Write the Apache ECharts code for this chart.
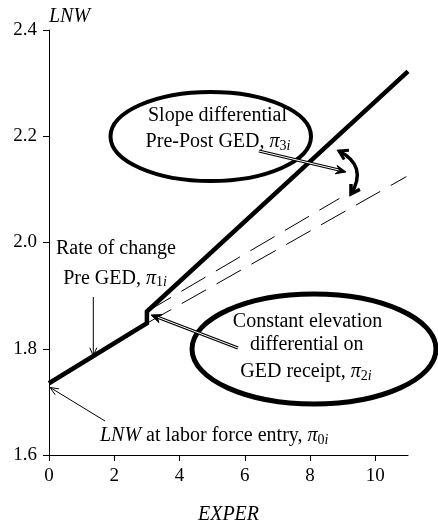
<!DOCTYPE html>
<html>
<head>
<meta charset="utf-8">
<script src="https://cdn.jsdelivr.net/npm/echarts@6/dist/echarts.min.js"></script>
<style>
  html, body { margin: 0; padding: 0; background: #fff; }
  #chart { width: 438px; height: 524px; }
</style>
</head>
<body>
<div id="chart"></div>
<script>
// Log wage (LNW) against labour-market experience (EXPER)
// Observed path for a GED recipient: pre-GED growth, jump at receipt, steeper growth after
const gedPathX = [0, 3, 3, 11];
const gedPathY = [1.735, 1.848, 1.870, 2.322];
// Counterfactual: pre-GED growth continued with no GED
const noGedX = [3, 10.95];
const noGedY = [1.848, 2.124];
// Counterfactual: elevation at receipt but no change in slope
const elevOnlyX = [3, 8.9];
const elevOnlyY = [1.870, 2.083];
// Axis ticks
const xTicks = [0, 2, 4, 6, 8, 10];
const yTicks = [1.6, 1.8, 2.0, 2.2, 2.4];

const SERIF = 'Liberation Serif';
const zip = (xs, ys) => xs.map((x, i) => [x, ys[i]]);

const chart = echarts.init(document.getElementById('chart'), null, { renderer: 'canvas' });

// Rich text styles for italic words and pi subscripts
const rich = {
  it: { fontFamily: SERIF, fontSize: 20, fontStyle: 'italic', color: '#000' },
  p:  { fontFamily: SERIF, fontSize: 20, fontStyle: 'italic', color: '#000' },
  s:  { fontFamily: SERIF, fontSize: 14, color: '#000', verticalAlign: 'bottom', padding: [8, 0, 0, 0] },
  si: { fontFamily: SERIF, fontSize: 14, fontStyle: 'italic', color: '#000', verticalAlign: 'bottom', padding: [8, 0, 0, 0] }
};

function label(text, x, y, align) {
  return {
    type: 'text',
    z: 50,
    style: {
      text: text, x: x, y: y,
      align: align || 'center', verticalAlign: 'middle',
      fontFamily: SERIF, fontSize: 20, fill: '#000',
      rich: rich
    }
  };
}

// Open V arrowhead at (tx, ty) pointing along (dx, dy)
function vHead(tx, ty, dx, dy, len, ang, w) {
  const L = Math.hypot(dx, dy), ux = dx / L, uy = dy / L;
  const c = Math.cos(ang), s = Math.sin(ang);
  const b1 = [tx - len * (ux * c - uy * s), ty - len * (uy * c + ux * s)];
  const b2 = [tx - len * (ux * c + uy * s), ty - len * (uy * c - ux * s)];
  return { type: 'polyline', z: 60, shape: { points: [b1, [tx, ty], b2] },
           style: { stroke: '#000', lineWidth: w, fill: null } };
}

// Filled notched arrowhead
function fillHead(tx, ty, dx, dy, len, ang) {
  const L = Math.hypot(dx, dy), ux = dx / L, uy = dy / L;
  const c = Math.cos(ang), s = Math.sin(ang);
  const b1 = [tx - len * (ux * c - uy * s), ty - len * (uy * c + ux * s)];
  const b2 = [tx - len * (ux * c + uy * s), ty - len * (uy * c - ux * s)];
  const n = [tx - 0.6 * len * ux, ty - 0.6 * len * uy];
  return { type: 'polygon', z: 60, shape: { points: [b1, [tx, ty], b2, n] },
           style: { fill: '#000', stroke: '#000', lineWidth: 1 } };
}

function line(x1, y1, x2, y2, w) {
  return { type: 'line', z: 55, shape: { x1, y1, x2, y2 }, style: { stroke: '#000', lineWidth: w } };
}

// Hollow (double-stroked) leader line
function doubleLine(x1, y1, x2, y2) {
  return [
    { type: 'line', z: 55, shape: { x1, y1, x2, y2 }, style: { stroke: '#000', lineWidth: 3 } },
    { type: 'line', z: 56, shape: { x1, y1, x2, y2 }, style: { stroke: '#fff', lineWidth: 1 } }
  ];
}

// Curved double-headed arrow marking the slope change
const cv = { x1: 339, y1: 151, cpx1: 368, cpy1: 166, x2: 351, y2: 194 };

const graphics = [
  { type: 'ellipse', z: 40, shape: { cx: 210.75, cy: 136.5, rx: 100.25, ry: 44.5 },
    style: { fill: null, stroke: '#000', lineWidth: 4 } },
  { type: 'ellipse', z: 40, shape: { cx: 314, cy: 349, rx: 122, ry: 55 },
    style: { fill: null, stroke: '#000', lineWidth: 5 } },

  label('Slope differential', 217.5, 116),
  label('Pre-Post GED, {p|π}{s|3}{si|i}', 218, 142),
  label('Rate of change', 116, 248.5),
  label('Pre GED, {p|π}{s|1}{si|i}', 115, 278.5),
  label('Constant elevation', 307.5, 322),
  label('differential on', 306.7, 345),
  label('GED receipt, {p|π}{s|2}{si|i}', 306, 372),
  label('{it|LNW} at labor force entry, {p|π}{s|0}{si|i}', 100, 436, 'left'),

  // rate of change pointer
  line(93.3, 297, 93.3, 355, 1),
  vHead(93.3, 356, 0, 1, 9, 0.4, 1),
  // labor force entry pointer
  line(105, 421, 51, 388, 1),
  vHead(50, 387.5, -55, -33.5, 9, 0.4, 1),
  // constant elevation pointer
  ...doubleLine(238, 348, 157, 317),
  fillHead(151, 315, -87, -33, 11, 0.4),
  // slope differential pointer
  ...doubleLine(259, 151, 339, 170),
  fillHead(346, 172, 87, 21, 11, 0.4),
  // curved arrow
  { type: 'bezierCurve', z: 60, shape: cv, style: { stroke: '#000', lineWidth: 3.5, fill: null } },
  vHead(cv.x1, cv.y1, cv.x1 - cv.cpx1, cv.y1 - cv.cpy1, 10, 0.55, 3),
  vHead(cv.x2, cv.y2, cv.x2 - cv.cpx1, cv.y2 - cv.cpy1, 10, 0.55, 3.5)
];

const tickLabelStyle = { fontFamily: SERIF, fontSize: 19, color: '#000' };

const axisCommon = {
  type: 'value',
  splitLine: { show: false },
  axisLine: { show: true, onZero: false, lineStyle: { color: '#000', width: 1 } },
  axisTick: { show: true, inside: false, length: 6, lineStyle: { color: '#000', width: 1 } }
};

chart.setOption({
  animation: false,
  backgroundColor: '#fff',
  textStyle: { fontFamily: SERIF, color: '#000' },
  grid: { left: 49, right: 30, top: 30, bottom: 69, containLabel: false, outerBoundsMode: 'none' },
  xAxis: Object.assign({}, axisCommon, {
    min: 0, max: 11,
    name: 'EXPER', nameLocation: 'middle', nameGap: 50,
    nameTextStyle: { fontFamily: SERIF, fontSize: 20, fontStyle: 'italic', color: '#000' },
    axisTick: Object.assign({}, axisCommon.axisTick, { customValues: xTicks }),
    axisLabel: Object.assign({ customValues: xTicks, margin: 12, formatter: v => String(v) }, tickLabelStyle)
  }),
  yAxis: Object.assign({}, axisCommon, {
    min: 1.6, max: 2.4,
    name: 'LNW', nameLocation: 'end', nameGap: 3,
    nameTextStyle: { fontFamily: SERIF, fontSize: 20, fontStyle: 'italic', color: '#000',
                     align: 'left', verticalAlign: 'bottom' },
    axisTick: Object.assign({}, axisCommon.axisTick, { customValues: yTicks }),
    axisLabel: Object.assign({ customValues: yTicks, margin: 12, formatter: v => v.toFixed(1) }, tickLabelStyle)
  }),
  series: [
    {
      type: 'line', name: 'No GED', data: zip(noGedX, noGedY), symbol: 'none', z: 3,
      lineStyle: { color: '#000', width: 1, type: [28, 12] }
    },
    {
      type: 'line', name: 'Elevation only', data: zip(elevOnlyX, elevOnlyY), symbol: 'none', z: 3,
      lineStyle: { color: '#000', width: 1, type: [28, 12] }
    },
    {
      type: 'line', name: 'GED recipient', data: zip(gedPathX, gedPathY), symbol: 'none', z: 5,
      lineStyle: { color: '#000', width: 4.5, join: 'miter' }
    }
  ],
  graphic: graphics
});
</script>
</body>
</html>
